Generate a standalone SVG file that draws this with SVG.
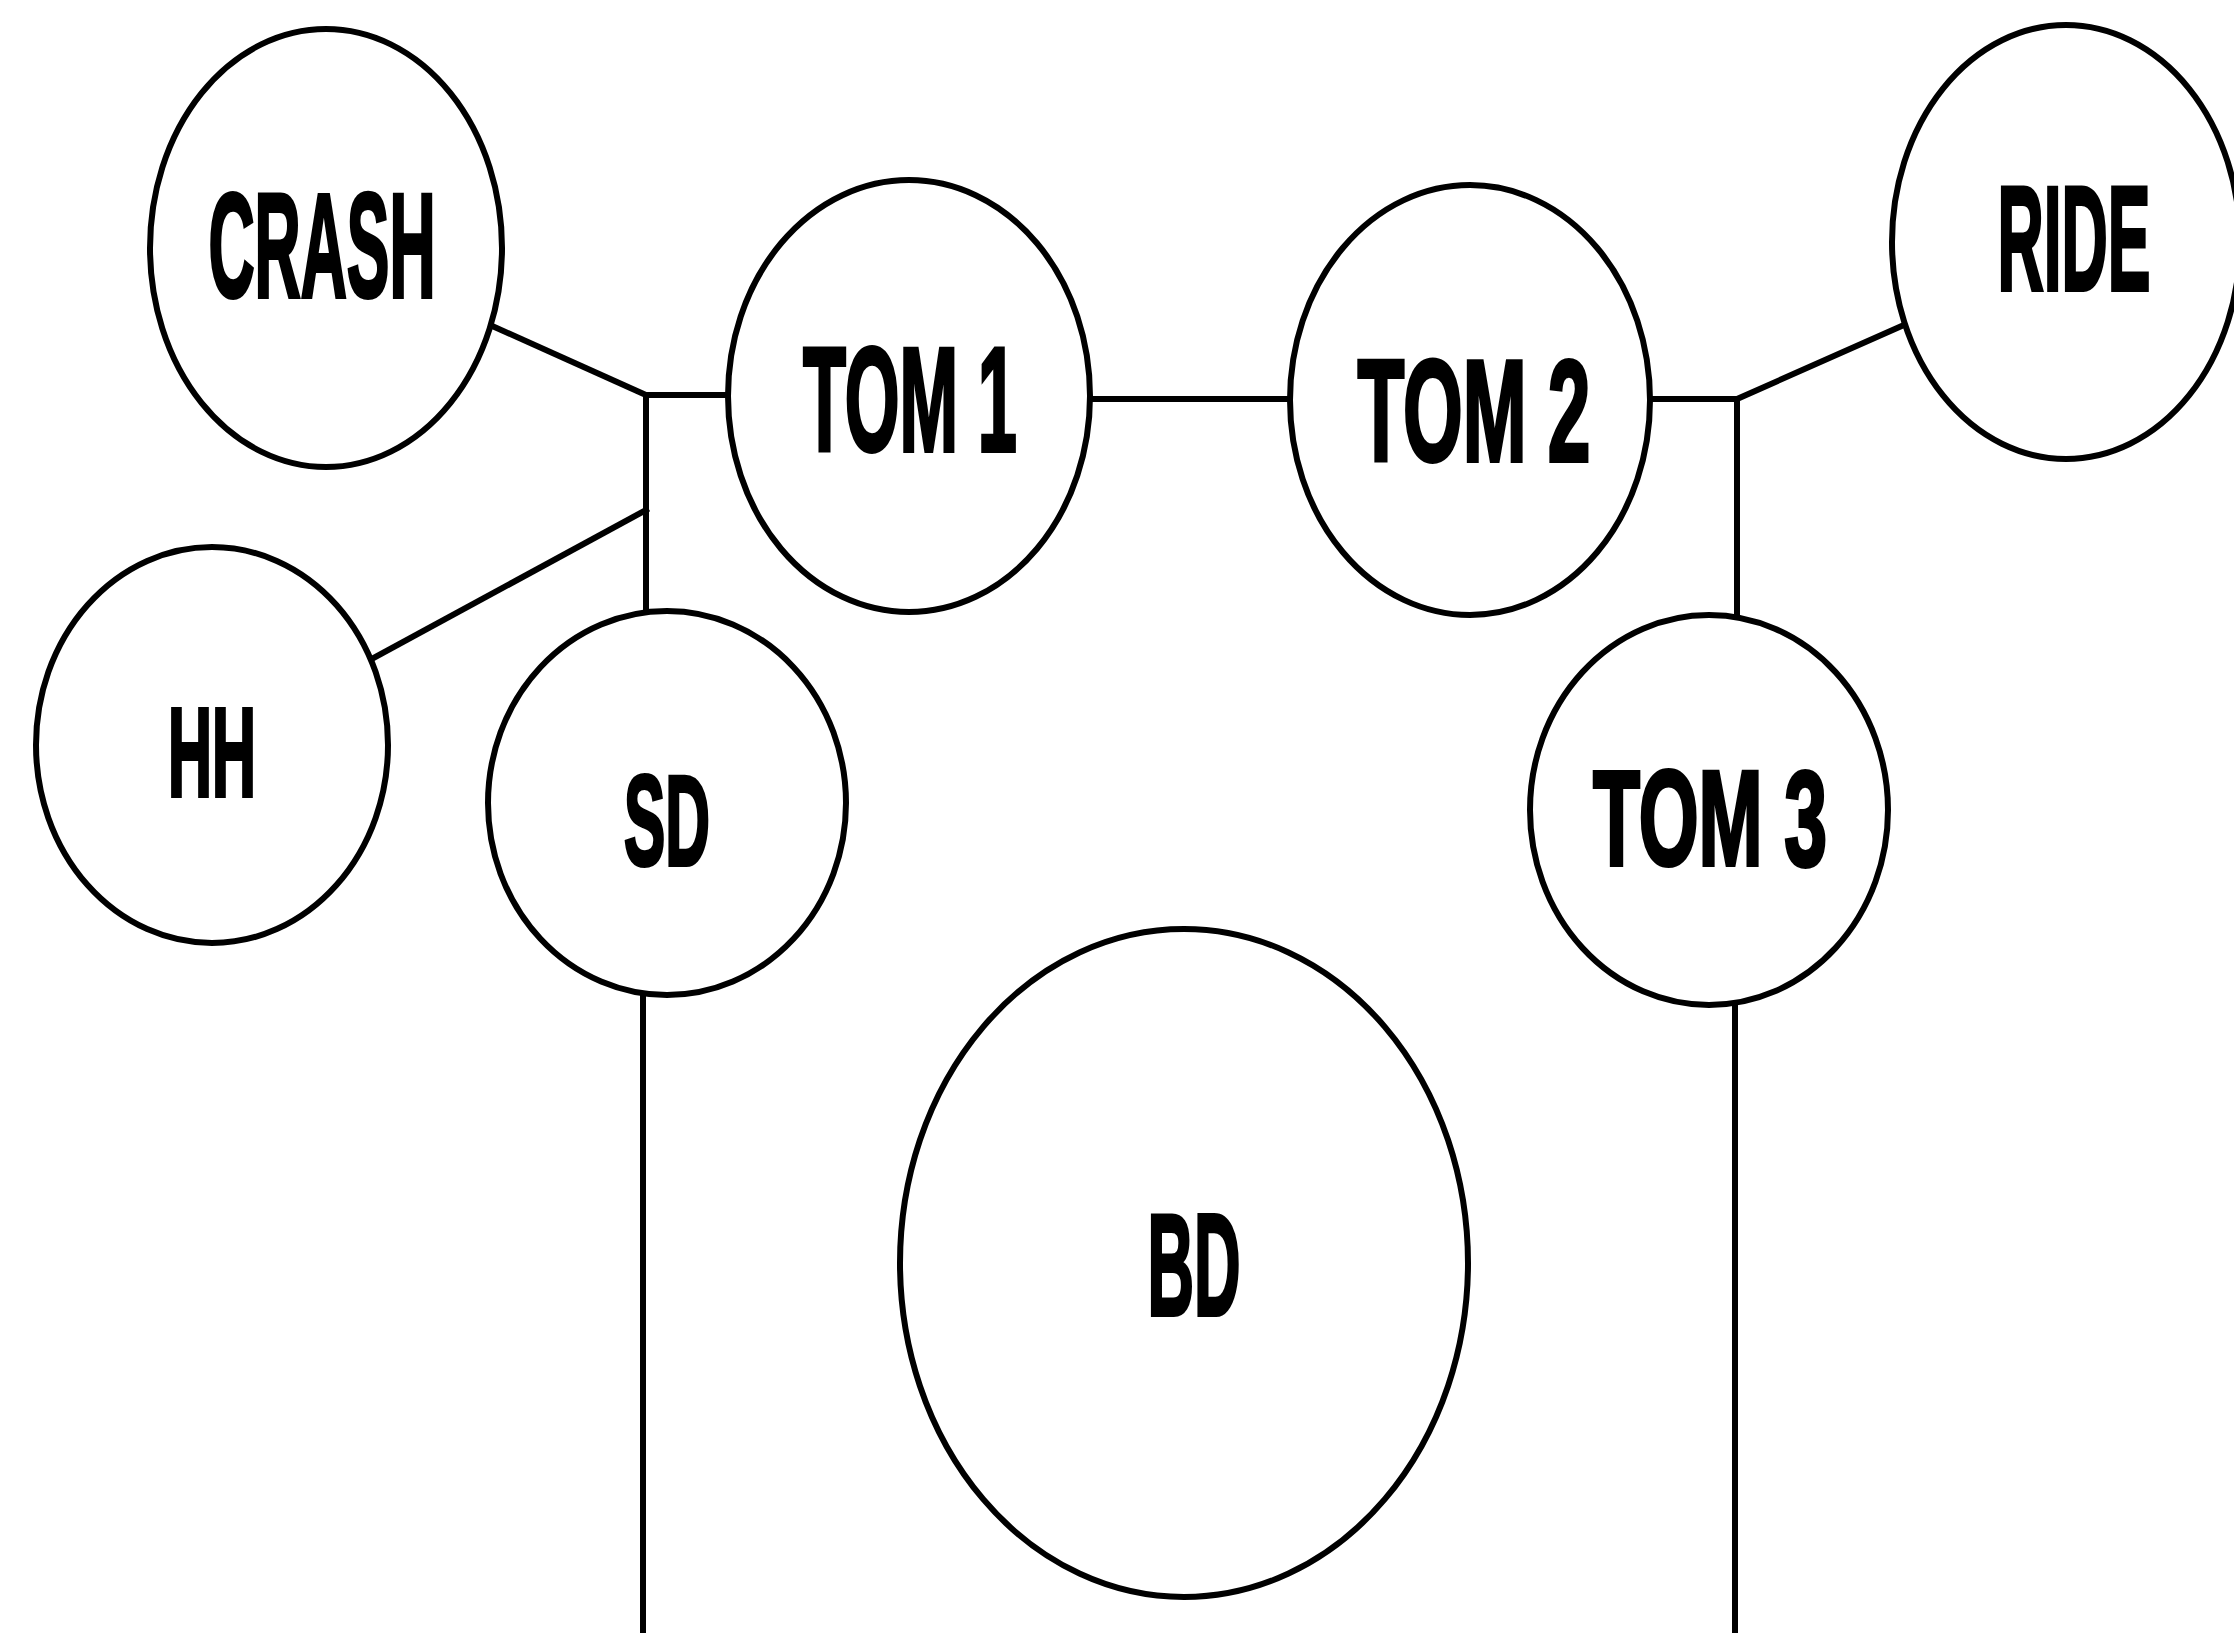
<svg xmlns="http://www.w3.org/2000/svg" width="2234" height="1639" viewBox="0 0 2234 1639">
<style>
.n{fill:#fff;stroke:#000;stroke-width:6}
.c line{stroke:#000;stroke-width:6;stroke-linecap:square}
text{font-family:"Liberation Sans",Arial,sans-serif;font-weight:bold;text-anchor:middle;fill:#000;stroke:#000;stroke-width:4;stroke-linejoin:miter}
</style>
<rect width="2234" height="1639" fill="#fff"/>
<g id="connectors" class="c">
<line x1="490" y1="325" x2="646" y2="395"/>
<line x1="646" y1="395" x2="728" y2="395"/>
<line x1="646" y1="395" x2="646" y2="612"/>
<line x1="370" y1="660" x2="646" y2="510"/>
<line x1="1090" y1="399" x2="1290" y2="399"/>
<line x1="1650" y1="399" x2="1737" y2="399"/>
<line x1="1737" y1="399" x2="1904" y2="325"/>
<line x1="1737" y1="399" x2="1737" y2="615"/>
<line x1="643" y1="995" x2="643" y2="1630"/>
<line x1="1735" y1="1004" x2="1735" y2="1630"/>
</g>
<g id="crash"><ellipse class="n" cx="326" cy="248" rx="176" ry="219"/><text x="322" y="297" font-size="148" textLength="227" lengthAdjust="spacingAndGlyphs">CRASH</text></g>
<g id="tom1"><ellipse class="n" cx="909" cy="396" rx="181" ry="216"/><text x="910" y="451" font-size="148" textLength="214" lengthAdjust="spacingAndGlyphs">TOM 1</text></g>
<g id="tom2"><ellipse class="n" cx="1470" cy="400" rx="180" ry="215"/><text x="1474" y="461" font-size="145" textLength="233" lengthAdjust="spacingAndGlyphs">TOM 2</text></g>
<g id="ride"><ellipse class="n" cx="2066" cy="242" rx="174" ry="217"/><text x="2074" y="290" font-size="148" textLength="153" lengthAdjust="spacingAndGlyphs">RIDE</text></g>
<g id="hh"><ellipse class="n" cx="212" cy="745" rx="176" ry="198"/><text x="212" y="796" font-size="126" textLength="88" lengthAdjust="spacingAndGlyphs">HH</text></g>
<g id="sd"><ellipse class="n" cx="667" cy="803" rx="179" ry="192"/><text x="667" y="865" font-size="128" textLength="86" lengthAdjust="spacingAndGlyphs">SD</text></g>
<g id="tom3"><ellipse class="n" cx="1709" cy="810" rx="179" ry="195"/><text x="1710" y="865" font-size="135" textLength="234" lengthAdjust="spacingAndGlyphs">TOM 3</text></g>
<g id="bd"><ellipse class="n" cx="1184" cy="1263" rx="284" ry="334" stroke-width="5"/><text x="1194" y="1315" font-size="145" textLength="93" lengthAdjust="spacingAndGlyphs">BD</text></g>
</svg>
